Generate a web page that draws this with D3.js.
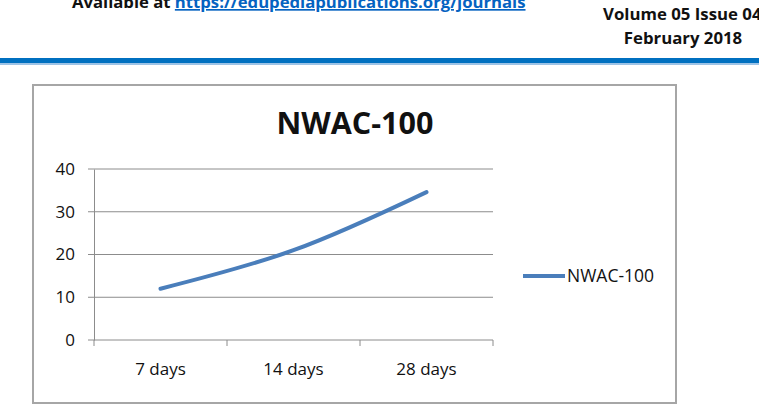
<!DOCTYPE html>
<html>
<head>
<meta charset="utf-8">
<script src="https://cdn.jsdelivr.net/npm/d3@7"></script>
<style>
  body { margin: 0; background: #fff; }
  svg { display: block; }
  text { font-family: "Open Sans", Lato, sans-serif; }
</style>
</head>
<body>
<script>
const categories = ["7 days", "14 days", "28 days"]
const values = [12, 21, 34.6]
const yTicks = [0, 10, 20, 30, 40]
const seriesName = "NWAC-100"

const WIDTH = 759
const HEIGHT = 418

const PLOT = { left: 94, right: 493, top: 169, bottom: 340 }

const svg = d3.select("body")
    .append("svg")
    .attr("width", WIDTH)
    .attr("height", HEIGHT)

// page header (top half cut off, as in the scanned page)
const head = svg.append("text")
    .attr("x", 72)
    .attr("y", 8)
    .attr("font-size", 16.7)
    .attr("font-weight", "bold")
head.append("tspan").attr("fill", "#111").text("Available at ")
head.append("tspan").attr("fill", "#0563c1").attr("text-decoration", "underline")
    .text("https://edupediapublications.org/journals")

svg.append("text")
    .attr("x", 603).attr("y", 20)
    .attr("font-size", 16.8).attr("font-weight", "bold").attr("fill", "#111")
    .text("Volume 05 Issue 04")
svg.append("text")
    .attr("x", 683).attr("y", 44)
    .attr("text-anchor", "middle")
    .attr("font-size", 16.8).attr("font-weight", "bold").attr("fill", "#111")
    .text("February 2018")

svg.append("rect")
    .attr("x", 0).attr("y", 58).attr("width", WIDTH).attr("height", 5)
    .attr("fill", "#0070c0")
svg.append("rect")
    .attr("x", 0).attr("y", 63).attr("width", WIDTH).attr("height", 2)
    .attr("fill", "#9dc3e6")

// chart frame
svg.append("rect")
    .attr("x", 33).attr("y", 85).attr("width", 643).attr("height", 318)
    .attr("fill", "#fff").attr("stroke", "#a6a6a6").attr("stroke-width", 2)

svg.append("text")
    .attr("x", 355).attr("y", 134)
    .attr("text-anchor", "middle")
    .attr("font-size", 30.5).attr("font-weight", "bold").attr("fill", "#111")
    .text(seriesName)

const xScale = d3.scaleBand()
    .domain(categories)
    .range([PLOT.left, PLOT.right])

const yScale = d3.scaleLinear()
    .domain([0, 40])
    .range([PLOT.bottom, PLOT.top])

// gridlines
svg.append("g")
    .selectAll("line")
    .data(yTicks)
    .enter()
    .append("line")
    .attr("x1", PLOT.left - 6)
    .attr("x2", PLOT.right)
    .attr("y1", d => yScale(d))
    .attr("y2", d => yScale(d))
    .attr("stroke", "#8c8c8c")
    .attr("stroke-width", 1)

const yAxis = d3.axisLeft(yScale).tickValues(yTicks).tickSize(0).tickPadding(19)
const yG = svg.append("g")
    .attr("transform", "translate(" + PLOT.left + ",0)")
    .call(yAxis)
yG.select(".domain").attr("stroke", "#8c8c8c")
yG.selectAll("text").attr("font-size", 17).attr("fill", "#111")
    .attr("font-family", "'Open Sans', Lato, sans-serif")

const xAxis = d3.axisBottom(xScale).tickSize(0).tickPadding(23)
const xG = svg.append("g")
    .attr("transform", "translate(0," + PLOT.bottom + ")")
    .call(xAxis)
xG.select(".domain").remove()
xG.selectAll("text").attr("font-size", 17).attr("fill", "#111")
    .attr("font-family", "'Open Sans', Lato, sans-serif")

// category boundary ticks
const bounds = categories.map(c => xScale(c)).concat([PLOT.right])
svg.append("g")
    .selectAll("line")
    .data(bounds)
    .enter()
    .append("line")
    .attr("x1", d => d).attr("x2", d => d)
    .attr("y1", PLOT.bottom).attr("y2", PLOT.bottom + 6)
    .attr("stroke", "#8c8c8c")

const line = d3.line()
    .x((d, i) => xScale(categories[i]) + xScale.bandwidth() / 2)
    .y(d => yScale(d))
    .curve(d3.curveCatmullRom.alpha(0.5))

svg.append("path")
    .datum(values)
    .attr("d", line)
    .attr("fill", "none")
    .attr("stroke", "#4a7ebb")
    .attr("stroke-width", 4)
    .attr("stroke-linecap", "round")

// legend
svg.append("line")
    .attr("x1", 523).attr("x2", 565)
    .attr("y1", 276).attr("y2", 276)
    .attr("stroke", "#4a7ebb").attr("stroke-width", 4)
svg.append("text")
    .attr("x", 567).attr("y", 282)
    .attr("font-size", 17.5).attr("fill", "#111")
    .text(seriesName)
</script>
</body>
</html>
